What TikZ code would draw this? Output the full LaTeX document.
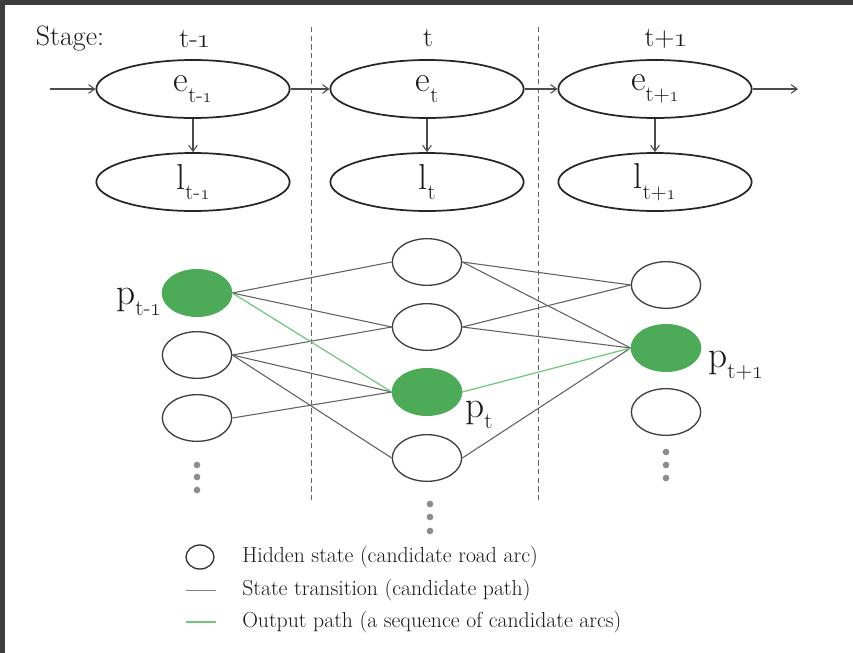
\documentclass[tikz,border=0pt]{standalone}
\usepackage{amsmath}
\usepackage{tikz}
\usetikzlibrary{shapes.geometric,arrows.meta}

\definecolor{stategreen}{RGB}{76,170,88}
\definecolor{pathgreen}{RGB}{112,198,122}
\definecolor{framegray}{RGB}{62,62,62}

\newcommand{\one}{\oldstylenums{1}}
\newcommand{\lowsub}[1]{\raisebox{-.3em}{\scalebox{0.62}{#1}}}

\tikzset{
  obs/.style={draw=black!85, ellipse, line width=1.3pt, minimum width=145pt,
    minimum height=43.5pt, inner sep=0pt, text=black!90,
    font=\fontsize{27}{27}\selectfont},
  hid/.style={draw=black!75, ellipse, line width=1pt, minimum width=52pt,
    minimum height=35pt, inner sep=0pt},
  hidsel/.style={hid, draw=stategreen, fill=stategreen},
  trans/.style={black!62, line width=0.8pt},
  outpath/.style={pathgreen, line width=0.9pt},
  flow/.style={-{Straight Barb[length=4.5pt,width=6.5pt]}, black!70, line width=0.8pt},
  stagesep/.style={black!60, line width=0.75pt, dash pattern=on 4pt off 2.5pt},
  lbl/.style={text=black!90, inner sep=0pt},
  stagelbl/.style={lbl, font=\fontsize{21}{21}\selectfont},
  keylbl/.style={lbl, anchor=west, font=\fontsize{16.3}{16.3}\selectfont},
  plbl/.style={lbl, font=\fontsize{28}{28}\selectfont}
}

\begin{document}
\begin{tikzpicture}[x=0.75pt,y=-0.75pt]
\fill[white] (0,0) rectangle (853,653);
\fill[framegray] (0,0) rectangle (853,5);
\fill[framegray] (0,0) rectangle (5,653);
\useasboundingbox (0,0) rectangle (853,653);

% stages
\node[stagelbl] (stage) at (70,39) {Stage:};
\node[stagelbl] (st1) at (195,39) {t-\one};
\node[stagelbl] (st2) at (428,38) {t};
\node[stagelbl] (st3) at (666,39) {t+\one};

\coordinate (sepa1) at (311,27);
\coordinate (sepa2) at (311,502);
\coordinate (sepb1) at (538,27);
\coordinate (sepb2) at (538,502);
\draw[stagesep] (sepa1) -- (sepa2);
\draw[stagesep] (sepb1) -- (sepb2);

% observations and locations
\node[obs] (e1) at (193,89) {e\lowsub{t-\one}};
\node[obs] (e2) at (427,89) {e\lowsub{t}};
\node[obs] (e3) at (655,89) {e\lowsub{t+\one}};
\node[obs] (l1) at (193,182) {l\lowsub{t-\one}};
\node[obs] (l2) at (427,182) {l\lowsub{t}};
\node[obs] (l3) at (655,182) {l\lowsub{t+\one}};

\coordinate (in) at (50,89);
\coordinate (out) at (798,89);
\draw[flow] (in) -- (e1);
\draw[flow] (e1) -- (e2);
\draw[flow] (e2) -- (e3);
\draw[flow] (e3) -- (out);
\foreach \i in {1,2,3}
  \draw[flow] (e\i) -- (l\i);

% candidate arcs
\node[hidsel] (a1) at (197,293) {};
\node[hid] (a2) at (197,355) {};
\node[hid] (a3) at (197,418) {};
\node[hid] (b1) at (427,262) {};
\node[hid] (b2) at (427,327) {};
\node[hidsel] (b3) at (427,392) {};
\node[hid] (b4) at (427,458) {};
\node[hid] (c1) at (666,285) {};
\node[hidsel] (c2) at (666,348) {};
\node[hid] (c3) at (666,412) {};

\foreach \u/\v in {a1/b1,a1/b2,a2/b2,a2/b3,a2/b4,a3/b3,b1/c1,b1/c2,b2/c1,b2/c2,b4/c2}
  \draw[trans] (\u.east) -- (\v.west);
\draw[outpath] (a1.east) -- (b3.west);
\draw[outpath] (b3.east) -- (c2.west);

\foreach \x/\y in {197/465,197/477,197/490,430/504,430/517,430/531,666/452,666/465,666/478}
  \fill[black!45] (\x,\y) circle (2.5pt);

\node[plbl, anchor=base east] (pa) at (162,304) {p\lowsub{t-\one}};
\node[plbl, anchor=base west] (pb) at (465,417) {p\lowsub{t}};
\node[plbl, anchor=base west] (pc) at (708,367) {p\lowsub{t+\one}};

% legend
\node[draw=black!80, ellipse, line width=1pt, minimum width=21pt,
  minimum height=18pt, inner sep=0pt] (key1) at (200,557) {};
\node[keylbl] (key1txt) at (242,557) {Hidden state (candidate road arc)};
\coordinate (key2a) at (186,590);
\coordinate (key2b) at (216,590);
\draw[black!50, line width=0.7pt] (key2a) -- (key2b);
\node[keylbl] (key2txt) at (242,590) {State transition (candidate path)};
\coordinate (key3a) at (186,622);
\coordinate (key3b) at (216,622);
\draw[outpath] (key3a) -- (key3b);
\node[keylbl] (key3txt) at (242,622) {Output path (a sequence of candidate arcs)};
\end{tikzpicture}
\end{document}
